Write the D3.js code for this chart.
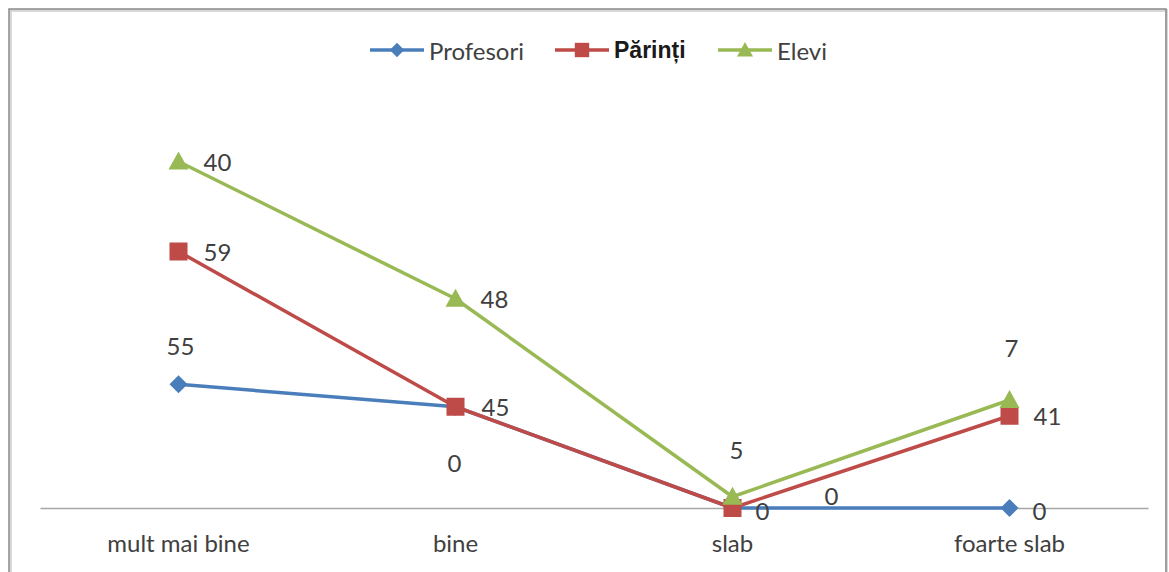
<!DOCTYPE html>
<html>
<head>
<meta charset="utf-8">
<script src="https://cdn.jsdelivr.net/npm/d3@7"></script>
<style>
  html, body { margin: 0; padding: 0; background: #fff; }
  svg { display: block; }
</style>
</head>
<body>
<svg id="chart" width="1169" height="572"></svg>
<script>
// Categories and series (stacked line chart: each line sits on the one below)
const categories = ["mult mai bine", "bine", "slab", "foarte slab"];
const seriesNames = ["Profesori", "Părinți", "Elevi"];
const profesori = [55, 45, 0, 0];
const parinti   = [59, 0, 0, 41];
const elevi     = [40, 48, 5, 7];

const colors  = ["#4a7ebb", "#be4b48", "#98b954"];
const markers = ["diamond", "square", "triangle"];
// Data-label offsets from each point (dx, dy)
const labelOffsets = [
  [[2, -39], [40, 0], [99, -13], [30, 2]],
  [[39, 0], [-1, 56], [30, 2], [38, 0]],
  [[39, 0], [39, 0], [4, -47], [2, -53]]
];

const svg = d3.select("#chart");
const W = 1169, H = 572;
const font = "Lato, 'Open Sans', sans-serif";

// Chart frame
svg.append("rect").attr("x", 10.5).attr("y", 10.5).attr("width", W - 13).attr("height", H + 10)
  .attr("fill", "none").attr("stroke", "#d8d8d8").attr("stroke-width", 3);
svg.append("rect").attr("x", 9).attr("y", 9).attr("width", W - 12).attr("height", H + 10)
  .attr("fill", "none").attr("stroke", "#8a8a8a").attr("stroke-width", 1.5);

const x = d3.scaleBand().domain(categories).range([40, 1148]);
const y = d3.scaleLinear().domain([0, 200]).range([508, 58]);

// Stack the series
const raw = [profesori, parinti, elevi];
const stacked = [];
raw.forEach((vals, i) => {
  stacked.push(vals.map((v, j) => (i ? stacked[i - 1][j] : 0) + v));
});

// Category axis
const axis = d3.axisBottom(x).tickSize(0).tickPadding(27);
const gAxis = svg.append("g").attr("transform", `translate(0,${y(0)})`).call(axis);
gAxis.select(".domain").attr("stroke", "#a6a6a6").attr("stroke-width", 1.5);
gAxis.selectAll("text").attr("font-family", font).attr("font-size", 24).attr("fill", "#404040");

const cx = c => x(c) + x.bandwidth() / 2;

function drawMarker(g, type, color, px, py, scale = 1) {
  if (type === "diamond") {
    const s = 9 * scale;
    g.append("path").attr("d", `M${px},${py - s}L${px + s},${py}L${px},${py + s}L${px - s},${py}Z`).attr("fill", color);
  } else if (type === "square") {
    const s = 9 * scale;
    g.append("rect").attr("x", px - s).attr("y", py - s).attr("width", 2 * s).attr("height", 2 * s).attr("fill", color);
  } else {
    const s = 10 * scale;
    g.append("path").attr("d", `M${px},${py - s}L${px + s},${py + s * 0.8}L${px - s},${py + s * 0.8}Z`).attr("fill", color);
  }
}

const line = d3.line().x((d, j) => cx(categories[j])).y(d => y(d));

stacked.forEach((vals, i) => {
  const g = svg.append("g");
  g.append("path").datum(vals).attr("d", line).attr("fill", "none")
    .attr("stroke", colors[i]).attr("stroke-width", 3.5).attr("stroke-linejoin", "round");
  vals.forEach((v, j) => drawMarker(g, markers[i], colors[i], cx(categories[j]), y(v)));
});

// Data labels (show each series' own value)
raw.forEach((vals, i) => {
  vals.forEach((v, j) => {
    const [dx, dy] = labelOffsets[i][j];
    svg.append("text")
      .attr("x", cx(categories[j]) + dx).attr("y", y(stacked[i][j]) + dy)
      .attr("text-anchor", "middle").attr("dominant-baseline", "central")
      .attr("font-family", font).attr("font-size", 24).attr("fill", "#404040")
      .text(v);
  });
});

// Legend
const legendX = [370, 555, 718];
const legend = svg.append("g").attr("transform", "translate(0,50)");
seriesNames.forEach((name, i) => {
  const lx = legendX[i];
  legend.append("line").attr("x1", lx).attr("x2", lx + 54).attr("y1", 0).attr("y2", 0)
    .attr("stroke", colors[i]).attr("stroke-width", 3.5);
  drawMarker(legend, markers[i], colors[i], lx + 27, 0, 0.8);
  const bold = i === 1;
  legend.append("text").attr("x", lx + 59).attr("y", 0).attr("dominant-baseline", "central")
    .attr("font-family", bold ? "'Liberation Sans', Arial, sans-serif" : font)
    .attr("font-size", bold ? 23 : 24)
    .attr("font-weight", bold ? "bold" : "normal")
    .attr("fill", bold ? "#1a1a1a" : "#404040")
    .text(name);
});
</script>
</body>
</html>
